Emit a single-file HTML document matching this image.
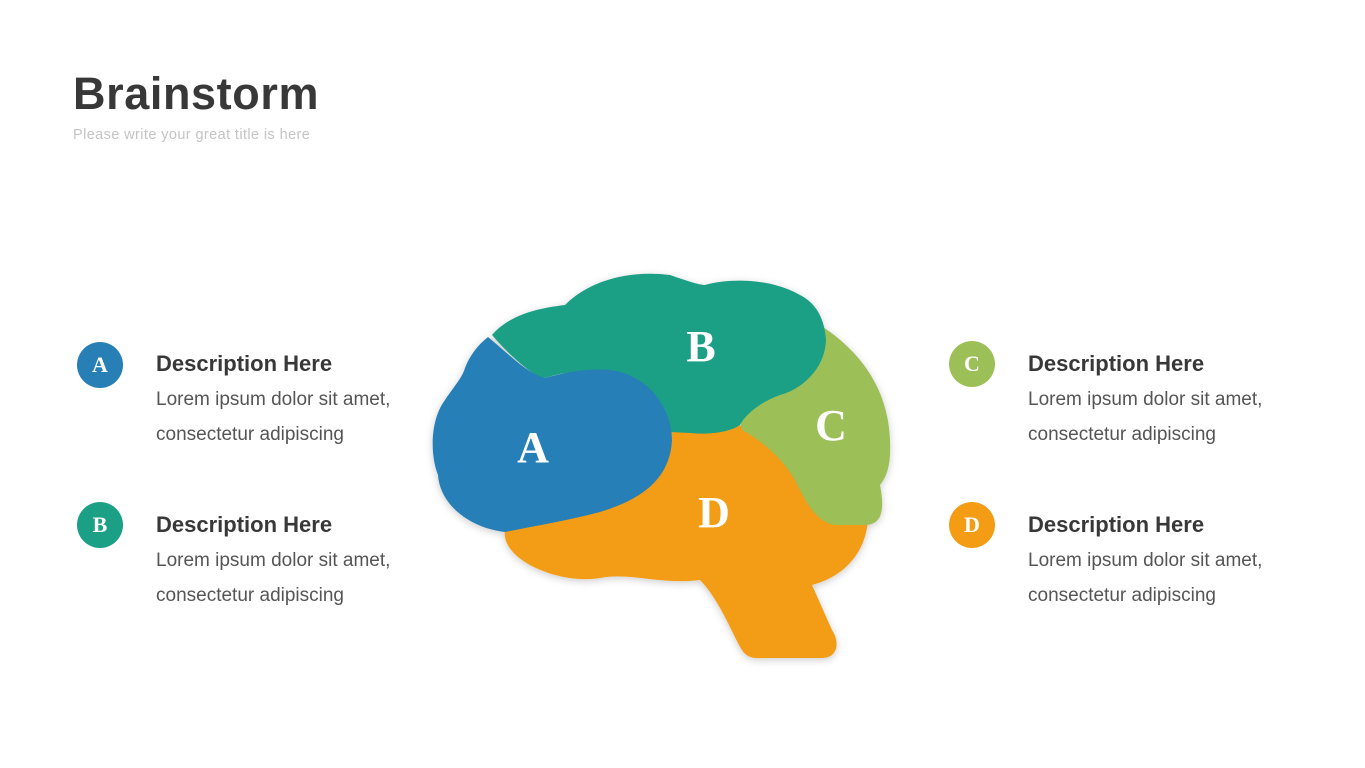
<!DOCTYPE html>
<html><head><meta charset="utf-8"><style>
body{margin:0;width:1365px;height:768px;background:#fff;position:relative;overflow:hidden;font-family:"Liberation Sans",sans-serif}
.t{position:absolute;left:73px;top:68px;font-size:45px;font-weight:bold;color:#383838;letter-spacing:0.6px}
.s{position:absolute;left:73px;top:127px;font-size:14.5px;color:#c4c4c4;letter-spacing:0.4px}
.c{position:absolute;width:46px;height:46px;border-radius:50%;color:#fff;font-family:"Liberation Serif",serif;font-weight:bold;font-size:22px;text-align:center;line-height:46px}
.h{position:absolute;font-size:22px;font-weight:bold;color:#383838}
.b{position:absolute;font-size:19px;color:#555;line-height:35px}
</style></head><body>
<div class="t">Brainstorm</div>
<div class="s">Please write your great title is here</div>

<div class="c" style="left:77px;top:342px;background:#277fb6">A</div>
<div class="h" style="left:156px;top:351px">Description Here</div>
<div class="b" style="left:156px;top:382px">Lorem ipsum dolor sit amet,<br>consectetur adipiscing</div>

<div class="c" style="left:77px;top:502px;background:#1ba085">B</div>
<div class="h" style="left:156px;top:512px">Description Here</div>
<div class="b" style="left:156px;top:543px">Lorem ipsum dolor sit amet,<br>consectetur adipiscing</div>

<div class="c" style="left:949px;top:341px;background:#9dbf58">C</div>
<div class="h" style="left:1028px;top:351px">Description Here</div>
<div class="b" style="left:1028px;top:382px">Lorem ipsum dolor sit amet,<br>consectetur adipiscing</div>

<div class="c" style="left:949px;top:502px;background:#f39c14">D</div>
<div class="h" style="left:1028px;top:512px">Description Here</div>
<div class="b" style="left:1028px;top:543px">Lorem ipsum dolor sit amet,<br>consectetur adipiscing</div>

<svg width="1365" height="768" style="position:absolute;left:0;top:0">
<defs><filter id="sh" x="-20%" y="-20%" width="140%" height="140%"><feDropShadow dx="0" dy="2" stdDeviation="4" flood-opacity="0.2"/></filter></defs>
<g filter="url(#sh)">
<path fill="#f39c14" d="M505,530 C500,560 560,585 600,578 C630,572 660,585 700,580 C720,600 735,640 742,650 C748,660 758,658 770,658 L822,658 C838,658 840,642 832,630 L812,585 C850,575 870,545 868,510 L850,430 L600,420 Z"/>
<path fill="#9dbf58" d="M770,300 C860,335 893,390 890,455 C889,472 884,480 880,485 C885,510 882,525 865,525 L835,525 C815,522 805,500 795,480 C780,455 760,440 742,430 L730,380 Z"/>
<path fill="#1ba085" d="M492,335 C510,314 540,308 565,305 C590,280 630,270 670,275 C690,282 700,285 705,285 C730,278 770,278 800,295 C820,305 825,325 826,340 C825,370 800,390 780,395 C760,402 745,415 740,425 C730,432 710,435 690,433 L670,432 C660,400 620,372 580,372 C555,372 545,380 540,378 C520,365 505,350 492,335 Z"/>
<path fill="#277fb6" d="M488,337 C510,355 525,372 545,378 C565,372 590,368 610,370 C650,375 672,410 672,440 C670,480 640,500 600,512 C570,520 540,525 505,532 C470,528 440,505 438,475 C430,455 430,420 445,400 C455,385 462,378 465,368 C470,355 478,345 488,337 Z"/>
</g>
<g fill="#fff" font-family="Liberation Serif,serif" font-weight="bold" font-size="44" text-anchor="middle">
<text x="533" y="462">A</text><text x="701" y="361">B</text><text x="831" y="440">C</text><text x="714" y="527">D</text>
</g>
</svg>
</body></html>
